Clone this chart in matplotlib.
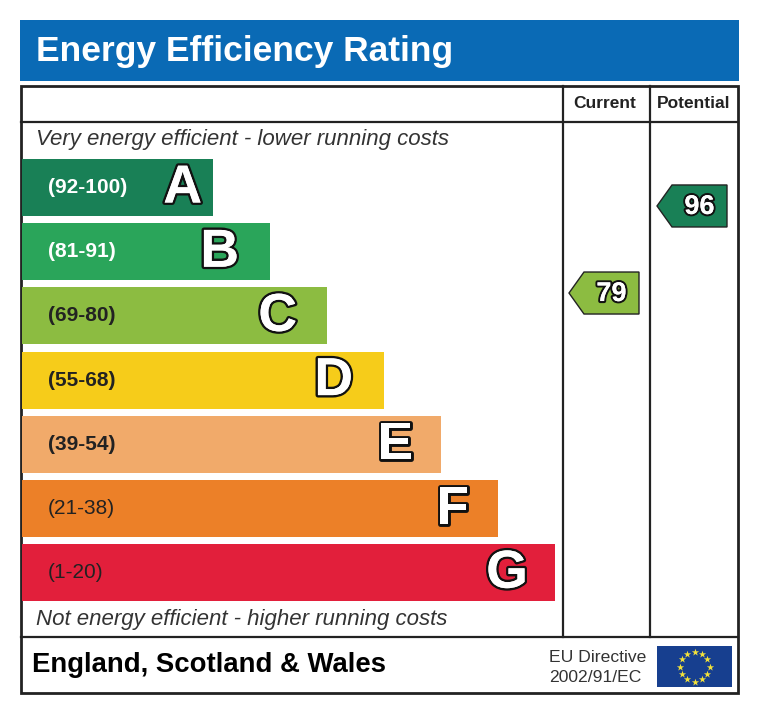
import numpy as np
import matplotlib.pyplot as plt
from matplotlib.patches import Rectangle, Polygon
import matplotlib.patheffects as pe

plt.rcParams['font.family'] = ['Liberation Sans', 'DejaVu Sans']

# ratings data
letters = ['A', 'B', 'C', 'D', 'E', 'F', 'G']
ranges = ['(92-100)', '(81-91)', '(69-80)', '(55-68)', '(39-54)', '(21-38)', '(1-20)']
lows = [92, 81, 69, 55, 39, 21, 1]
band_colors = ['#198056', '#2aa55a', '#8cbc41', '#f6cc1a', '#f1aa6a', '#ec8028', '#e21f3b']
label_colors = ['white', 'white', '#222222', '#222222', '#222222', '#222222', '#222222']
label_bold = [True, True, True, True, True, False, False]
current = 79
potential = 96

W, H = 760, 715
fig = plt.figure(figsize=(W / 100, H / 100), dpi=100)
ax = fig.add_axes([0, 0, 1, 1])
ax.set_xlim(0, W)
ax.set_ylim(H, 0)
ax.axis('off')

line_c = '#222222'
outline = [pe.withStroke(linewidth=3.5, foreground='#111111'), pe.Normal()]

# title
ax.add_patch(Rectangle((20, 20), 719, 61, color='#0a6ab5', lw=0))
ax.text(36, 51, 'Energy Efficiency Rating', color='white', fontsize=25.5,
        fontweight='bold', va='center', ha='left')

# frame
ax.add_patch(Rectangle((21, 86), 717, 607, fill=False, ec=line_c, lw=2))
ax.plot([21, 738], [122, 122], color=line_c, lw=1.6)
ax.plot([21, 738], [637, 637], color=line_c, lw=1.6)
ax.plot([563, 563], [86, 637], color=line_c, lw=1.6)
ax.plot([650, 650], [86, 637], color=line_c, lw=1.6)
ax.text(605, 104, 'Current', fontsize=12.5, fontweight='bold', color=line_c,
        ha='center', va='center')
ax.text(694, 104, 'Potential', fontsize=12.5, fontweight='bold', color=line_c,
        ha='center', va='center')

ax.text(36, 140, 'Very energy efficient - lower running costs', fontsize=16,
        style='italic', color='#333333', ha='left', va='center')
ax.text(36, 620, 'Not energy efficient - higher running costs', fontsize=16,
        style='italic', color='#333333', ha='left', va='center')

# bands
top0, pitch, bh = 159, 64.2, 57
right0, step = 213, 57
letter_pad = [11, 31, 30, 31, 28, 29, 27]
for i, (let, rng) in enumerate(zip(letters, ranges)):
    y = top0 + i * pitch
    r = right0 + i * step
    ax.add_patch(Rectangle((22, y), r - 22, bh, color=band_colors[i], lw=0))
    ax.text(48, y + bh / 2, rng, fontsize=15, color=label_colors[i],
            fontweight='bold' if label_bold[i] else 'normal', ha='left', va='center')
    ax.text(r - letter_pad[i], y + bh / 2 + 1, let, fontsize=38.5, fontweight='bold',
            color='white', ha='right', va='center', path_effects=outline)


def band_index(v):
    for i, lo in enumerate(lows):
        if v >= lo:
            return i
    return len(lows) - 1


def rating_arrow(v, x_tip, x_right):
    yc = 185.5 + (100 - v) * 5.12
    h = 42
    pts = [(x_tip, yc), (x_tip + 15, yc - h / 2), (x_right, yc - h / 2),
           (x_right, yc + h / 2), (x_tip + 15, yc + h / 2)]
    ax.add_patch(Polygon(pts, closed=True, fc=band_colors[band_index(v)],
                         ec='#222222', lw=1))
    ax.text((x_tip + 15 + x_right) / 2, yc + 1, str(v), fontsize=19.5,
            fontweight='bold', color='white', ha='center', va='center',
            path_effects=[pe.withStroke(linewidth=3, foreground='#111111'), pe.Normal()])


rating_arrow(current, 569, 639)
rating_arrow(potential, 657, 727)

# footer
ax.text(32, 665, 'England, Scotland & Wales', fontsize=19.8, fontweight='bold',
        color='black', ha='left', va='center')
ax.text(549, 657, 'EU Directive', fontsize=12.6, color='#333333', ha='left', va='center')
ax.text(549, 678, '2002/91/EC', fontsize=12.6, color='#333333', ha='left', va='center')

ax.add_patch(Rectangle((657, 646), 75, 41, color='#173f8f', lw=0))
ang = np.arange(12) * np.pi / 6
ax.scatter(694.5 + 15 * np.cos(ang), 666.5 + 15 * np.sin(ang), marker='*',
           s=30, color='#f3e23a', lw=0, zorder=5)

fig.savefig('out.png', dpi=100)
